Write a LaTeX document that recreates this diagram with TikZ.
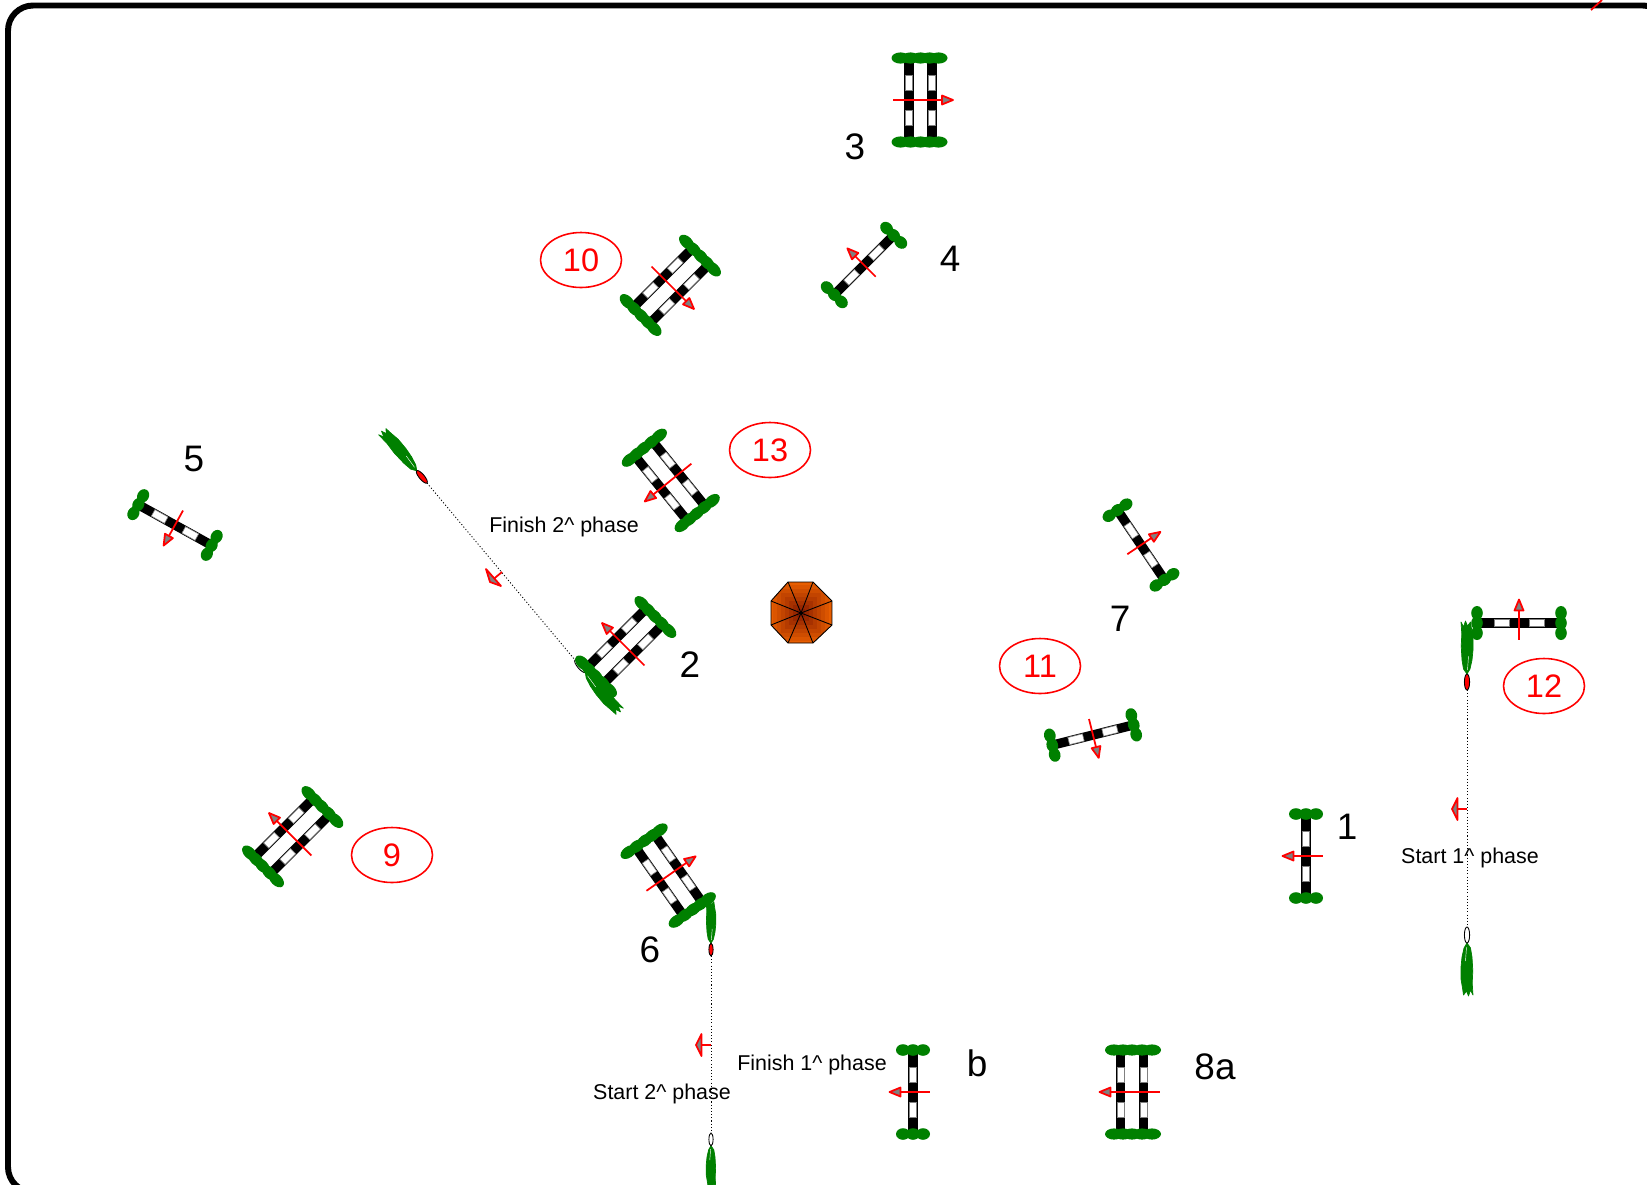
\documentclass[tikz,border=0pt]{standalone}
\usepackage{fontspec}
\setmainfont{Liberation Sans}
\usetikzlibrary{shapes.geometric}
\definecolor{hedgegreen}{RGB}{0,128,0}
\definecolor{umbA}{RGB}{232,94,0}
\definecolor{umbB}{RGB}{125,22,0}
\tikzset{
  bignum/.style={inner sep=0pt,font=\fontsize{21}{24}\selectfont},
  smalltxt/.style={inner sep=0pt,font=\fontsize{12.2}{14}\selectfont},
  redoval/.style={draw=red,line width=0.9pt,ellipse,minimum width=1.62cm,minimum height=1.1cm,inner sep=0pt,text=red,font=\fontsize{18.5}{22}\selectfont},
  hedge/.style={fill=hedgegreen,draw=none},
  whitebar/.style={fill=white,draw=gray,line width=0.35pt},
  redline/.style={draw=red,line width=1pt},
  redhead/.style={draw=red,fill=gray,line width=1pt,line join=round},
  track/.style={draw=black,line width=0.5pt,dash pattern=on 0.6pt off 1.2pt},
  horsebody/.style={fill=hedgegreen,draw=hedgegreen,line width=0.4pt,line join=round},
}
\newcommand{\railbar}[1]{%
  \fill[black] (#1-4.7,-38) rectangle (#1+4.7,38);
  \draw[whitebar] (#1-3.7,-25) rectangle (#1+3.7,-10);
  \draw[whitebar] (#1-3.7,10) rectangle (#1+3.7,25);
}
\newcommand{\crossarrow}[2]{%
  \draw[redline] (#1,0) -- (#2,0);
  \draw[redhead] (#2,0) -- (#2-11,-4.5) -- (#2-11,4.5) -- cycle;
}
\newcommand{\hurdleone}[3]{%
  \begin{scope}[shift={(#1,#2)},rotate=#3]
    \railbar{0}
    \foreach \s in {-1,1}{
      \fill[hedge] (-10,\s*42-4) rectangle (10,\s*42+4);
      \foreach \t in {-10,0,10}{\fill[hedge] (\t,\s*42) ellipse[x radius=7,y radius=5.8];}}
    \crossarrow{-16.5}{23.5}
  \end{scope}}
\newcommand{\hurdletwo}[3]{%
  \begin{scope}[shift={(#1,#2)},rotate=#3]
    \railbar{-11.5}\railbar{11.5}
    \foreach \s in {-1,1}{
      \fill[hedge] (-20,\s*42-4) rectangle (18,\s*42+4);
      \foreach \t in {-20,-10,0,9,18}{\fill[hedge] (\t,\s*42) ellipse[x radius=9,y radius=5.6];}}
    \crossarrow{-27.5}{32.5}
  \end{scope}}
\newcommand{\horse}[5]{%
  \begin{scope}[shift={(#1,#2)},rotate=#3,scale=#5]
    \draw[horsebody] (16,0) -- (21,-3.5) -- (30,-5) -- (44,-5.8) -- (56,-5.2) -- (68,-6) -- (63,-3.5) -- (69,-1.5) -- (64,0.5) -- (68,3.5) -- (61,4.5) -- (52,6) -- (40,6) -- (30,5) -- (21,3) -- cycle;
    \draw[white,line width=0.25pt] (20,0.5) -- (34,1.5);
    \draw[black,fill=#4,line width=0.5pt] (8,0) ellipse[x radius=8,y radius=2.6];
  \end{scope}}
\begin{document}
\begin{tikzpicture}[x=0.02cm,y=-0.02cm]
\useasboundingbox (0,0) rectangle (1647,1184);
\clip (0,0) rectangle (1647,1184);
\fill[white] (0,0) rectangle (1647,1184);
\draw[black,line width=3.4pt,rounded corners=0.5cm] (8,5.5) rectangle (1668,1192);
\draw[redline] (1591,10) -- (1602,0);

% umbrella
\begin{scope}
  \clip (788,582) -- (813,582) -- (832,601) -- (832,625) -- (813,643) -- (788,643) -- (771,625) -- (771,601) -- cycle;
  \foreach \s/\p in {32/100,28/88,24/76,20/64,16/52,12/38,8/24,4/10}{
    \fill[umbA!\p!umbB] (801-\s,613-\s) rectangle (801+\s,613+\s);
  }
\end{scope}
\foreach \a/\b in {788/582,813/582,832/601,832/625,813/643,788/643,771/625,771/601}{
  \draw[black,line width=0.5pt] (\a,\b) -- (801,613);
}
\draw[black,line width=0.5pt,line join=round] (788,582) -- (813,582) -- (832,601) -- (832,625) -- (813,643) -- (788,643) -- (771,625) -- (771,601) -- cycle;

% tracks
\coordinate (fa) at (1467,690);
\coordinate (sa) at (1467,927);
\coordinate (fb) at (711,956);
\coordinate (sb) at (711,1133);
\coordinate (fc) at (427,483);
\coordinate (sc) at (575,660);
\draw[track] (fa) -- (sa);
\draw[track] (fb) -- (sb);
\draw[track] (fc) -- (sc);

\horse{575}{660}{-50}{white}{1}

% hurdles
\hurdleone{1519}{623}{90}
\hurdleone{1306}{856}{180}
\hurdleone{913}{1092}{180}
\hurdleone{864}{265}{135}
\hurdleone{175}{525}{241}
\hurdleone{1141}{545}{34}
\hurdleone{1093}{735}{-76}
\hurdletwo{920.5}{100}{0}
\hurdletwo{671}{286}{-45}
\hurdletwo{670}{481}{219}
\hurdletwo{625}{646}{135}
\hurdletwo{292}{836}{135}
\hurdletwo{669}{875}{35}
\hurdletwo{1132}{1092}{180}

% horses
\horse{1467}{690}{90}{red}{1}
\horse{1467}{927}{-90}{white}{1}
\horse{711}{956}{90}{red}{0.8}
\horse{711}{1133}{-90}{white}{0.8}
\horse{427}{483}{130}{red}{1}

% direction marks on tracks
\draw[redline] (1467,809) -- (1452,809);
\draw[redhead] (1452,809) -- (1457.5,798) -- (1457.5,820) -- cycle;
\draw[redline] (711,1045) -- (696,1045);
\draw[redhead] (696,1045) -- (701.5,1034) -- (701.5,1056) -- cycle;
\draw[redline] (502,572) -- (490,582);
\draw[redhead] (490,582) -- (486,569) -- (501,586) -- cycle;

% labels
\node[bignum] (n3) at (855,147) {3};
\node[bignum] (n4) at (950,259) {4};
\node[bignum] (n5) at (194,459) {5};
\node[bignum] (n7) at (1120,619) {7};
\node[bignum] (n2) at (690,665) {2};
\node[bignum] (n1) at (1347,827) {1};
\node[bignum] (n6) at (650,950) {6};
\node[bignum] (nb) at (977,1063) {b};
\node[bignum] (n8) at (1215,1067) {8a};
\node[redoval] (n10) at (581,260) {10};
\node[redoval] (n13) at (770,450) {13};
\node[redoval] (n11) at (1040,666) {11};
\node[redoval] (n12) at (1544,686) {12};
\node[redoval] (n9) at (392,855) {9};
\node[smalltxt] (t1) at (564,527) {Finish 2\char`\^{} phase};
\node[smalltxt] (t2) at (812,1065) {Finish 1\char`\^{} phase};
\node[smalltxt] (t3) at (662,1094) {Start 2\char`\^{} phase};
\node[smalltxt] (t4) at (1470,858) {Start 1\char`\^{} phase};
\end{tikzpicture}
\end{document}
